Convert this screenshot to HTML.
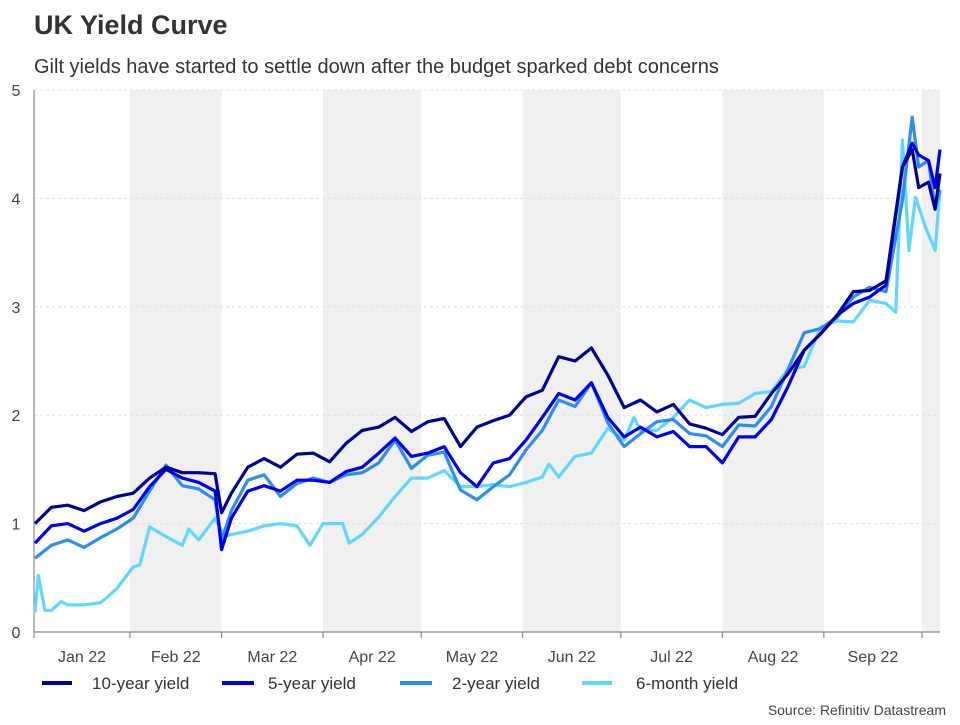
<!DOCTYPE html>
<html><head><meta charset="utf-8"><style>
html,body{margin:0;padding:0;background:#fff;}
body{width:960px;height:720px;overflow:hidden;font-family:"Liberation Sans",sans-serif;}
</style></head><body>
<svg id="chart" width="960" height="720" xmlns="http://www.w3.org/2000/svg" font-family="Liberation Sans, sans-serif">
<text x="34" y="34" font-size="27" font-weight="bold" fill="#333">UK Yield Curve</text>
<text x="34" y="73" font-size="20" fill="#333">Gilt yields have started to settle down after the budget sparked debt concerns</text>
<g id="bands"></g><g id="grid"></g><g id="axes"></g><g id="series"></g>
<g>
<line x1="42" y1="683" x2="72" y2="683" stroke="#000092" stroke-width="4"/>
<text x="92" y="689" font-size="17" fill="#333">10-year yield</text>
<line x1="222" y1="683" x2="254" y2="683" stroke="#0000ee" stroke-width="4"/>
<text x="268" y="689" font-size="17" fill="#333">5-year yield</text>
<line x1="400" y1="683" x2="432" y2="683" stroke="#2b8ff0" stroke-width="4"/>
<text x="452" y="689" font-size="17" fill="#333">2-year yield</text>
<line x1="582" y1="683" x2="612" y2="683" stroke="#5fd8ff" stroke-width="4"/>
<text x="636" y="689" font-size="17" fill="#333">6-month yield</text>
</g>
<text x="946" y="715" text-anchor="end" font-size="14" fill="#444">Source: Refinitiv Datastream</text>
</svg>
<script>
const monthDays = [0,31,59,90,120,151,181,212,243,273];
const monthLabels = ["Jan 22","Feb 22","Mar 22","Apr 22","May 22","Jun 22","Jul 22","Aug 22","Sep 22"];
const yTicks = [0,1,2,3,4,5];
const days = [2,7,12,17,22,27,32,37,42,47,52,57,59,62,67,72,77,82,87,92,97,102,107,112,117,122,127,132,137,142,147,152,157,162,167,172,177,182,187,192,197,202,207,212,217,222,227,232,237,242,247,252,257,262,267,270,272,275,277,280];
const y10 = [1.0,1.15,1.17,1.12,1.2,1.25,1.28,1.42,1.52,1.47,1.47,1.46,1.1,1.28,1.52,1.6,1.52,1.64,1.65,1.57,1.74,1.86,1.89,1.98,1.85,1.94,1.97,1.71,1.89,1.95,2.0,2.17,2.23,2.54,2.5,2.62,2.37,2.07,2.14,2.03,2.1,1.92,1.88,1.82,1.98,1.99,2.2,2.38,2.6,2.75,2.92,3.14,3.15,3.24,4.29,4.45,4.1,4.15,3.9,4.23];
const y5 = [0.82,0.98,1.0,0.93,1.0,1.05,1.13,1.34,1.5,1.42,1.38,1.3,0.76,1.05,1.3,1.35,1.3,1.4,1.4,1.38,1.48,1.52,1.65,1.79,1.62,1.65,1.71,1.47,1.34,1.56,1.6,1.77,1.98,2.2,2.14,2.3,1.98,1.8,1.89,1.8,1.85,1.71,1.71,1.56,1.8,1.8,1.96,2.26,2.6,2.75,2.92,3.03,3.09,3.2,4.29,4.51,4.4,4.35,4.1,4.45];
const y2 = [0.68,0.8,0.85,0.78,0.87,0.95,1.05,1.3,1.54,1.35,1.32,1.22,0.85,1.12,1.4,1.45,1.25,1.37,1.42,1.38,1.45,1.47,1.56,1.77,1.51,1.63,1.66,1.31,1.22,1.34,1.45,1.68,1.86,2.14,2.08,2.3,1.93,1.71,1.83,1.94,1.96,1.83,1.81,1.71,1.91,1.9,2.08,2.42,2.76,2.8,2.9,3.09,3.18,3.14,3.98,4.75,4.29,4.35,3.9,4.08];
const days6m = [2,3,5,7,10,12,17,22,24,27,32,34,37,42,47,49,52,57,60,62,67,72,77,82,86,90,96,98,102,107,112,117,122,127,132,137,142,147,152,157,159,162,167,172,177,182,185,187,192,197,202,207,212,217,222,227,232,237,242,247,252,257,262,265,267,269,271,274,277,278,280];
const y6m = [0.18,0.52,0.2,0.2,0.28,0.25,0.25,0.27,0.32,0.4,0.6,0.62,0.97,0.88,0.8,0.95,0.85,1.05,0.88,0.9,0.93,0.98,1.0,0.98,0.8,1.0,1.0,0.82,0.9,1.06,1.25,1.42,1.42,1.49,1.34,1.34,1.36,1.34,1.38,1.43,1.55,1.43,1.62,1.65,1.88,1.77,1.98,1.86,1.86,1.98,2.14,2.07,2.1,2.11,2.2,2.22,2.42,2.45,2.81,2.87,2.86,3.06,3.03,2.95,4.54,3.52,4.01,3.74,3.52,3.9,4.08];
const NS="http://www.w3.org/2000/svg";
const X0=28.5,X1=922,D0=0,D1=273,YT=90,YB=632,XL=34,XR=940;
function xs(d){return Math.min(XR,Math.max(XL,X0+(d-D0)*(X1-X0)/(D1-D0)));}
function ys(v){return YB-v*(YB-YT)/5;}
function mk(tag,attrs,parent){const e=document.createElementNS(NS,tag);for(const k in attrs)e.setAttribute(k,attrs[k]);parent.appendChild(e);return e;}
const bands=document.getElementById('bands'),grid=document.getElementById('grid'),axes=document.getElementById('axes'),series=document.getElementById('series');
for(let i=1;i<monthDays.length;i+=2){
  const x1=xs(monthDays[i]), x2=i+1<monthDays.length?xs(monthDays[i+1]):XR;
  const r=mk('rect',{x:x1,y:YT,width:x2-x1,height:YB-YT,fill:'#f0f0f0'},bands);
  
  
}
yTicks.forEach(v=>{
  if(v>0){const l=mk('line',{x1:XL,x2:XR,y1:ys(v),y2:ys(v),stroke:'#e0e0e0','stroke-dasharray':'3,3'},grid);
  
  }
  const t=mk('text',{x:16,y:ys(v)+6,'text-anchor':'middle','font-size':'16',fill:'#444'},axes);
  t.textContent=v;
  
  
});
const ya=mk('line',{x1:XL,x2:XL,y1:YT,y2:YB,stroke:'#888','stroke-width':1.2},axes);


const xa=mk('line',{x1:XL,x2:XR,y1:YB,y2:YB,stroke:'#888','stroke-width':1.2},axes);


monthDays.forEach((d,i)=>{
  const x=xs(d);
  const tk=mk('line',{x1:x,x2:x,y1:YB,y2:YB+6,stroke:'#888','stroke-width':1.2},axes);
  
  
  if(i<monthLabels.length){
    const xb=xs(monthDays[i+1]);
    const t=mk('text',{x:(x+xb)/2,y:662,'text-anchor':'middle','font-size':'16',fill:'#444'},axes);
    t.textContent=monthLabels[i];
    
    
  }
});
function line(ds,vs,color,name){
  const d=ds.map((dd,i)=>(i?'L':'M')+xs(dd).toFixed(1)+','+ys(vs[i]).toFixed(1)).join(' ');
  const p=mk('path',{d:d,fill:'none',stroke:color,'stroke-width':3.2,'stroke-linejoin':'round'},series);
  
  
}
line(days6m,y6m,'#5fd8ff','series-6-month-yield');
line(days,y2,'#2b8ff0','series-2-year-yield');
line(days,y5,'#0000ee','series-5-year-yield');
line(days,y10,'#000092','series-10-year-yield');
</script>
</body></html>
